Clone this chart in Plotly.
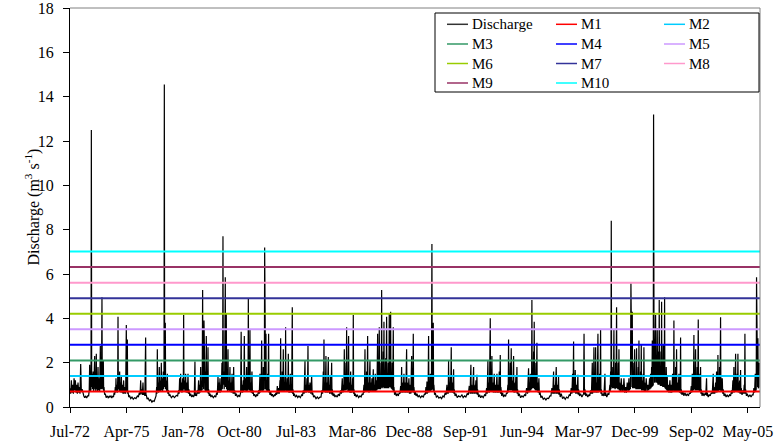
import pandas as pd
import plotly.graph_objects as go

# ---------------------------------------------------------------- data
start_date = pd.Timestamp("1972-07-22")
end_date = pd.Timestamp("2005-12-31")

# daily discharge record: (days since start_date, discharge in m3/s)
discharge_obs = [
    (0, 0.85), (12, 0.6), (24, 1.2), (35, 0.65), (47, 1.0), (60, 0.6), (72, 1.3), (83, 0.75), (95, 1.2),
    (106, 0.65), (118, 1.0), (130, 0.6), (142, 1.1), (155, 0.65), (165, 0.9), (177, 0.6), (189, 1.94),
    (201, 0.7), (215, 0.8), (230, 0.6), (245, 0.5), (260, 0.42), (278, 0.5), (295, 0.4), (312, 0.5),
    (330, 0.5), (340, 0.75), (348, 1.9), (360, 0.7), (366, 1.3), (372, 0.8), (378, 12.5), (384, 0.9),
    (392, 1.5), (401, 0.8), (410, 1.6), (419, 0.7), (428, 1.3), (437, 2.3), (443, 0.8), (448, 1.2),
    (457, 0.7), (466, 2.4), (472, 0.8), (478, 1.4), (487, 0.7), (496, 1.8), (505, 0.75), (513, 1.3),
    (525, 0.7), (537, 2.75), (543, 0.8), (549, 1.5), (557, 0.8), (566, 4.95), (572, 0.9), (578, 1.4),
    (584, 0.8), (590, 2.1), (596, 0.7), (602, 0.9), (613, 0.55), (625, 0.6), (640, 0.42), (661, 0.5),
    (680, 0.4), (695, 0.5), (708, 0.45), (725, 0.5), (740, 0.4), (755, 0.5), (770, 0.45), (781, 0.65),
    (791, 0.55), (802, 0.9), (808, 0.65), (814, 1.3), (820, 0.7), (826, 1.0), (838, 0.65), (844, 1.2),
    (850, 4.07), (856, 0.8), (861, 1.3), (870, 0.7), (879, 1.6), (885, 0.7), (891, 1.1), (900, 0.65),
    (909, 1.4), (917, 0.65), (926, 1.0), (938, 0.6), (950, 1.2), (959, 0.6), (968, 0.9), (985, 0.6),
    (997, 3.7), (1003, 0.7), (1009, 1.0), (1015, 3.05), (1021, 0.6), (1027, 0.7), (1040, 0.45),
    (1056, 0.5), (1075, 0.38), (1097, 0.45), (1120, 0.35), (1145, 0.42), (1168, 0.38), (1192, 0.5),
    (1210, 0.45), (1227, 0.65), (1240, 0.55), (1251, 1.2), (1260, 0.6), (1268, 0.8), (1280, 0.55),
    (1292, 1.1), (1301, 0.55), (1310, 0.7), (1325, 0.5), (1339, 3.14), (1345, 0.5), (1351, 0.55),
    (1365, 0.35), (1381, 0.42), (1405, 0.28), (1428, 0.33), (1450, 0.22), (1469, 0.28), (1490, 0.25),
    (1511, 0.38), (1523, 0.5), (1534, 0.9), (1540, 0.6), (1546, 2.6), (1552, 0.7), (1558, 1.1),
    (1570, 0.65), (1581, 1.8), (1587, 0.7), (1593, 1.2), (1605, 0.7), (1617, 2.0), (1623, 0.75),
    (1628, 1.3), (1640, 0.7), (1652, 1.6), (1658, 0.8), (1664, 1.1), (1670, 14.55), (1676, 0.9),
    (1681, 1.5), (1687, 3.8), (1693, 0.8), (1699, 1.2), (1711, 0.7), (1723, 1.5), (1732, 0.6),
    (1741, 0.75), (1755, 0.5), (1770, 0.55), (1795, 0.42), (1823, 0.5), (1850, 0.42), (1882, 0.52),
    (1905, 0.5), (1923, 0.75), (1932, 0.6), (1941, 1.3), (1950, 0.7), (1959, 1.5), (1965, 0.7),
    (1971, 1.1), (1983, 0.65), (1994, 1.3), (2000, 0.7), (2006, 1.0), (2012, 4.15), (2018, 0.8),
    (2024, 1.2), (2035, 0.7), (2047, 1.5), (2056, 0.65), (2065, 1.1), (2077, 0.65), (2089, 1.5),
    (2097, 0.6), (2106, 0.8), (2120, 0.5), (2136, 0.6), (2155, 0.45), (2171, 0.52), (2188, 0.45),
    (2201, 0.58), (2212, 2.05), (2218, 0.5), (2224, 0.6), (2240, 0.5), (2254, 0.75), (2265, 0.6),
    (2277, 1.2), (2286, 0.6), (2295, 1.0), (2304, 0.65), (2313, 1.8), (2322, 0.7), (2330, 1.2),
    (2340, 0.75), (2348, 5.28), (2354, 0.9), (2360, 1.4), (2366, 0.8), (2372, 3.9), (2378, 0.8),
    (2384, 1.3), (2390, 0.75), (2396, 1.6), (2402, 0.7), (2407, 1.1), (2413, 3.2), (2419, 0.7),
    (2425, 1.1), (2434, 0.65), (2443, 2.7), (2449, 0.6), (2455, 0.8), (2466, 0.5), (2478, 0.6),
    (2495, 0.45), (2513, 0.52), (2537, 0.42), (2561, 0.5), (2580, 0.45), (2596, 0.65), (2608, 0.55),
    (2620, 1.4), (2628, 0.65), (2637, 1.1), (2646, 0.65), (2655, 1.3), (2661, 0.65), (2667, 1.0),
    (2678, 0.7), (2690, 2.0), (2696, 0.8), (2702, 1.3), (2708, 7.7), (2714, 1.0), (2720, 1.6),
    (2729, 0.8), (2738, 1.3), (2749, 5.85), (2755, 0.9), (2761, 1.4), (2767, 4.2), (2773, 0.8),
    (2779, 1.3), (2788, 0.7), (2797, 2.6), (2803, 0.75), (2809, 1.2), (2820, 0.7), (2832, 1.8),
    (2838, 0.7), (2844, 1.1), (2856, 0.65), (2868, 1.5), (2874, 0.65), (2879, 1.0), (2888, 0.6),
    (2897, 1.8), (2906, 0.6), (2915, 0.75), (2930, 0.5), (2944, 0.6), (2965, 0.45), (2986, 0.52),
    (3005, 0.48), (3021, 0.65), (3030, 3.4), (3037, 0.65), (3044, 1.0), (3056, 0.65), (3068, 1.2),
    (3077, 0.7), (3086, 3.2), (3094, 0.75), (3103, 1.3), (3115, 0.7), (3127, 1.8), (3136, 0.7),
    (3145, 1.2), (3151, 0.75), (3157, 4.9), (3163, 0.8), (3168, 1.4), (3177, 0.75), (3186, 3.47),
    (3192, 0.7), (3198, 1.1), (3210, 0.65), (3221, 1.6), (3230, 0.6), (3239, 0.75), (3254, 0.5),
    (3269, 0.58), (3287, 0.45), (3304, 0.55), (3320, 0.5), (3339, 0.75), (3351, 0.6), (3363, 1.5),
    (3369, 0.65), (3375, 1.0), (3384, 0.7), (3393, 3.0), (3399, 0.75), (3404, 1.2), (3413, 0.7),
    (3422, 1.8), (3428, 0.75), (3434, 1.2), (3440, 0.8), (3446, 7.2), (3452, 0.9), (3457, 1.4),
    (3463, 0.8), (3469, 3.3), (3475, 0.75), (3481, 1.2), (3490, 0.7), (3499, 1.5), (3507, 0.7),
    (3516, 3.3), (3522, 0.65), (3528, 0.8), (3540, 0.55), (3552, 0.7), (3566, 0.5), (3581, 0.58),
    (3600, 0.45), (3617, 0.55), (3632, 0.5), (3646, 0.65), (3658, 0.55), (3670, 0.95), (3682, 0.6),
    (3693, 0.85), (3705, 0.6), (3717, 1.2), (3723, 0.7), (3729, 3.1), (3735, 0.7), (3741, 1.1),
    (3750, 0.7), (3758, 1.6), (3767, 0.7), (3776, 2.6), (3782, 0.7), (3788, 1.1), (3797, 0.7),
    (3806, 1.4), (3812, 0.75), (3817, 3.6), (3823, 0.7), (3829, 1.1), (3838, 0.7), (3847, 1.3),
    (3856, 0.7), (3865, 2.4), (3871, 0.65), (3876, 1.0), (3888, 0.65), (3900, 1.5), (3906, 0.65),
    (3912, 1.0), (3924, 0.65), (3935, 4.5), (3941, 0.6), (3947, 0.8), (3959, 0.5), (3971, 0.6),
    (3990, 0.45), (4012, 0.52), (4032, 0.42), (4053, 0.5), (4077, 0.42), (4101, 0.55), (4115, 0.5),
    (4130, 0.75), (4145, 0.6), (4160, 2.1), (4166, 0.65), (4171, 1.0), (4183, 0.65), (4195, 1.3),
    (4204, 0.7), (4213, 2.75), (4219, 0.65), (4224, 1.0), (4236, 0.65), (4248, 1.1), (4263, 0.6),
    (4278, 1.4), (4287, 0.55), (4295, 0.65), (4313, 0.45), (4331, 0.5), (4355, 0.38), (4378, 0.45),
    (4400, 0.38), (4425, 0.45), (4443, 0.45), (4460, 0.75), (4472, 0.6), (4484, 1.6), (4490, 0.7),
    (4496, 3.05), (4502, 0.7), (4508, 1.1), (4520, 0.65), (4531, 2.3), (4537, 0.65), (4543, 1.1),
    (4558, 0.65), (4573, 2.25), (4579, 0.65), (4584, 1.0), (4596, 0.6), (4608, 1.4), (4620, 0.6),
    (4632, 2.0), (4638, 0.55), (4643, 0.8), (4658, 0.5), (4673, 0.6), (4690, 0.45), (4708, 0.52),
    (4730, 0.45), (4750, 0.58), (4770, 0.5), (4791, 0.75), (4805, 0.6), (4820, 1.3), (4829, 0.65),
    (4838, 1.0), (4847, 0.7), (4856, 2.6), (4862, 0.75), (4868, 1.2), (4876, 0.75), (4885, 2.0),
    (4891, 0.75), (4897, 3.6), (4903, 0.8), (4909, 1.3), (4920, 0.7), (4932, 3.2), (4938, 0.7),
    (4944, 1.1), (4956, 0.65), (4968, 1.6), (4977, 0.65), (4986, 1.0), (4995, 0.65), (5003, 1.3),
    (5009, 0.7), (5015, 4.15), (5021, 0.6), (5027, 0.8), (5038, 0.5), (5050, 0.6), (5068, 0.45),
    (5086, 0.55), (5110, 0.42), (5133, 0.5), (5153, 0.45), (5174, 0.6), (5189, 0.55), (5204, 1.0),
    (5213, 0.65), (5222, 2.6), (5228, 0.7), (5233, 1.1), (5242, 0.7), (5251, 1.6), (5260, 0.7),
    (5269, 3.2), (5275, 0.7), (5281, 1.1), (5295, 0.65), (5310, 2.1), (5316, 0.7), (5322, 1.1),
    (5333, 0.7), (5345, 1.3), (5357, 0.7), (5369, 1.7), (5375, 0.7), (5381, 1.0), (5392, 0.7),
    (5404, 1.5), (5413, 0.7), (5422, 1.2), (5434, 0.75), (5446, 3.3), (5452, 0.8), (5458, 1.4),
    (5466, 0.8), (5475, 3.6), (5481, 0.8), (5487, 1.4), (5496, 0.8), (5505, 2.0), (5511, 0.85),
    (5517, 5.28), (5523, 0.9), (5528, 1.5), (5537, 0.85), (5546, 2.5), (5552, 0.9), (5558, 3.85),
    (5564, 0.85), (5570, 1.4), (5579, 0.85), (5587, 2.2), (5596, 0.85), (5605, 4.07), (5611, 0.85),
    (5617, 1.5), (5626, 0.85), (5635, 2.0), (5644, 0.85), (5652, 4.2), (5658, 0.9), (5664, 1.6),
    (5670, 0.9), (5676, 4.3), (5682, 0.85), (5688, 1.4), (5697, 0.8), (5705, 2.0), (5714, 0.75),
    (5723, 3.6), (5729, 0.7), (5735, 0.9), (5746, 0.55), (5758, 0.7), (5776, 0.5), (5794, 0.6),
    (5812, 0.5), (5829, 0.65), (5841, 0.6), (5853, 0.95), (5862, 0.65), (5871, 1.8), (5877, 0.65),
    (5882, 1.1), (5897, 0.65), (5912, 1.5), (5921, 0.65), (5930, 1.1), (5945, 0.65), (5959, 2.6),
    (5965, 0.65), (5971, 1.1), (5986, 0.65), (6000, 1.3), (6009, 0.6), (6018, 1.0), (6033, 0.6),
    (6048, 2.3), (6054, 0.65), (6059, 1.1), (6068, 0.7), (6077, 3.3), (6083, 0.65), (6089, 0.9),
    (6100, 0.55), (6112, 0.7), (6127, 0.5), (6142, 0.6), (6162, 0.45), (6183, 0.52), (6206, 0.42),
    (6230, 0.5), (6254, 0.45), (6277, 0.6), (6289, 0.55), (6301, 0.9), (6310, 0.6), (6319, 1.15),
    (6325, 0.6), (6330, 1.0), (6339, 0.65), (6348, 3.2), (6354, 0.65), (6360, 1.1), (6369, 0.7),
    (6378, 1.5), (6384, 0.7), (6389, 1.2), (6398, 0.75), (6407, 7.35), (6413, 0.8), (6419, 1.4),
    (6425, 0.75), (6431, 3.8), (6437, 0.7), (6442, 1.0), (6454, 0.55), (6466, 0.65), (6486, 0.45),
    (6507, 0.5), (6530, 0.4), (6555, 0.45), (6578, 0.38), (6602, 0.5), (6622, 0.45), (6643, 0.65),
    (6658, 0.55), (6673, 1.0), (6682, 0.6), (6690, 0.9), (6696, 0.6), (6702, 2.1), (6708, 0.65),
    (6714, 1.1), (6723, 0.65), (6732, 1.4), (6740, 0.65), (6749, 2.7), (6755, 0.65), (6761, 1.1),
    (6776, 0.65), (6791, 1.7), (6797, 0.6), (6802, 0.8), (6817, 0.5), (6832, 0.6), (6855, 0.42),
    (6879, 0.5), (6908, 0.45), (6938, 0.55), (6960, 0.42), (6985, 0.5), (7008, 0.45), (7032, 0.6),
    (7050, 0.55), (7068, 0.95), (7082, 0.6), (7097, 1.9), (7103, 0.6), (7109, 1.0), (7127, 0.6),
    (7145, 1.8), (7151, 0.6), (7156, 1.0), (7171, 0.6), (7186, 1.2), (7195, 0.6), (7204, 1.45),
    (7210, 0.55), (7215, 0.8), (7233, 0.45), (7251, 0.55), (7270, 0.42), (7292, 0.5), (7315, 0.42),
    (7339, 0.55), (7357, 0.5), (7375, 0.85), (7386, 0.6), (7398, 2.1), (7404, 0.65), (7410, 1.1),
    (7425, 0.65), (7440, 4.0), (7446, 0.7), (7451, 1.3), (7460, 0.7), (7469, 2.3), (7475, 0.7),
    (7481, 1.1), (7495, 0.65), (7510, 1.5), (7519, 0.65), (7528, 1.0), (7543, 0.65), (7558, 1.5),
    (7566, 0.65), (7575, 1.0), (7587, 0.65), (7599, 1.6), (7608, 0.65), (7617, 2.35), (7622, 0.6),
    (7628, 0.9), (7643, 0.5), (7658, 0.65), (7675, 0.45), (7693, 0.55), (7711, 0.48), (7729, 0.65),
    (7740, 0.6), (7752, 1.0), (7758, 0.65), (7764, 3.05), (7770, 0.75), (7776, 1.3), (7785, 0.75),
    (7794, 2.0), (7802, 0.75), (7811, 2.65), (7817, 0.75), (7823, 1.2), (7838, 0.7), (7853, 2.3),
    (7858, 0.65), (7864, 1.1), (7879, 0.65), (7894, 1.4), (7903, 0.65), (7912, 1.8), (7917, 0.6),
    (7923, 0.8), (7938, 0.5), (7953, 0.6), (7977, 0.42), (8000, 0.5), (8023, 0.45), (8047, 0.55),
    (8065, 0.5), (8083, 0.85), (8100, 0.6), (8118, 1.75), (8124, 0.65), (8130, 1.1), (8139, 0.7),
    (8148, 1.5), (8156, 0.75), (8165, 1.2), (8171, 0.8), (8177, 4.83), (8183, 0.85), (8189, 1.6),
    (8198, 0.85), (8207, 2.5), (8212, 0.85), (8218, 3.85), (8224, 0.8), (8230, 1.4), (8239, 0.75),
    (8248, 2.0), (8257, 0.75), (8266, 2.9), (8271, 0.7), (8277, 1.1), (8289, 0.65), (8301, 1.3),
    (8310, 0.55), (8319, 0.7), (8336, 0.42), (8354, 0.5), (8378, 0.35), (8401, 0.4), (8425, 0.32),
    (8448, 0.4), (8472, 0.38), (8496, 0.5), (8514, 0.5), (8531, 0.85), (8546, 0.6), (8561, 1.6),
    (8567, 0.6), (8572, 1.0), (8590, 0.6), (8608, 1.8), (8614, 0.6), (8620, 1.0), (8635, 0.6),
    (8649, 1.37), (8655, 0.55), (8661, 0.8), (8678, 0.45), (8696, 0.6), (8720, 0.38), (8743, 0.45),
    (8767, 0.35), (8791, 0.45), (8815, 0.4), (8838, 0.55), (8856, 0.5), (8873, 0.85), (8885, 0.6),
    (8897, 1.5), (8906, 0.65), (8915, 2.95), (8920, 0.65), (8926, 1.1), (8935, 0.65), (8944, 1.67),
    (8953, 0.6), (8962, 1.0), (8977, 0.6), (8991, 1.45), (8997, 0.55), (9003, 0.8), (9020, 0.5),
    (9038, 0.6), (9062, 0.45), (9086, 0.55), (9092, 0.6), (9100, 3.3), (9108, 0.55), (9116, 0.8),
    (9130, 0.5), (9145, 0.6), (9166, 0.45), (9187, 0.55), (9201, 0.5), (9216, 0.75), (9231, 0.6),
    (9246, 2.0), (9251, 0.6), (9257, 1.1), (9266, 0.65), (9275, 2.7), (9281, 0.65), (9287, 1.1),
    (9296, 0.65), (9305, 2.7), (9311, 0.65), (9316, 1.1), (9331, 0.65), (9346, 3.3), (9352, 0.65),
    (9358, 1.1), (9366, 0.7), (9375, 1.5), (9384, 0.7), (9393, 3.47), (9399, 0.6), (9405, 0.8),
    (9420, 0.5), (9434, 0.6), (9452, 0.5), (9470, 1.5), (9476, 0.5), (9482, 0.65), (9502, 0.45),
    (9523, 0.6), (9540, 0.55), (9558, 1.0), (9564, 0.7), (9570, 1.6), (9576, 0.8), (9582, 8.4),
    (9588, 0.9), (9594, 1.4), (9602, 0.85), (9611, 1.8), (9620, 0.85), (9629, 3.47), (9635, 0.85),
    (9641, 1.4), (9650, 0.8), (9659, 2.0), (9667, 0.85), (9676, 4.5), (9682, 0.85), (9688, 1.5),
    (9697, 0.8), (9706, 2.0), (9712, 0.8), (9718, 2.6), (9723, 0.75), (9729, 1.1), (9744, 0.7),
    (9759, 1.3), (9770, 0.7), (9782, 1.0), (9794, 0.7), (9806, 1.3), (9821, 0.65), (9836, 0.9),
    (9850, 0.65), (9865, 1.1), (9880, 0.7), (9895, 1.3), (9903, 0.75), (9912, 1.1), (9921, 0.8),
    (9930, 5.58), (9936, 0.9), (9942, 1.6), (9948, 0.9), (9954, 4.3), (9960, 0.85), (9965, 1.5),
    (9974, 0.85), (9983, 2.0), (9989, 0.85), (9995, 2.6), (10001, 0.85), (10007, 1.4), (10018, 0.8),
    (10030, 2.65), (10036, 0.8), (10042, 1.4), (10051, 0.8), (10060, 1.8), (10066, 0.8), (10072, 3.0),
    (10077, 0.8), (10083, 1.4), (10092, 0.8), (10101, 1.6), (10107, 0.8), (10113, 2.8), (10119, 0.75),
    (10125, 1.2), (10137, 0.75), (10148, 1.5), (10154, 0.75), (10160, 2.7), (10166, 0.7), (10172, 1.1),
    (10187, 0.7), (10201, 1.3), (10216, 0.7), (10231, 1.0), (10245, 0.75), (10260, 1.3), (10269, 0.8),
    (10278, 1.5), (10287, 0.85), (10296, 1.8), (10302, 0.9), (10308, 3.0), (10313, 0.95), (10319, 1.6),
    (10325, 1.0), (10331, 13.2), (10334, 1.5), (10337, 9.07), (10340, 1.4), (10345, 2.0), (10349, 1.1),
    (10355, 2.5), (10361, 1.1), (10367, 4.15), (10372, 1.1), (10378, 2.0), (10387, 1.1), (10396, 3.55),
    (10402, 1.1), (10408, 1.8), (10414, 1.0), (10420, 2.5), (10425, 1.0), (10431, 4.83), (10437, 1.0),
    (10443, 1.6), (10452, 0.95), (10461, 2.5), (10467, 0.95), (10473, 4.75), (10479, 0.95), (10485, 1.6),
    (10494, 0.9), (10502, 2.8), (10508, 0.9), (10514, 1.5), (10520, 0.9), (10526, 4.95), (10532, 0.85),
    (10538, 1.3), (10547, 0.8), (10555, 1.8), (10564, 0.75), (10573, 1.37), (10582, 0.7), (10591, 1.0),
    (10605, 0.65), (10620, 1.2), (10632, 0.65), (10644, 1.0), (10655, 0.65), (10667, 1.5), (10673, 0.7),
    (10679, 1.1), (10685, 0.75), (10691, 3.9), (10697, 0.7), (10703, 1.1), (10712, 0.7), (10721, 1.8),
    (10730, 0.7), (10738, 2.6), (10744, 0.7), (10750, 1.1), (10765, 0.7), (10780, 1.5), (10788, 0.65),
    (10797, 1.0), (10803, 0.65), (10809, 3.14), (10815, 0.6), (10821, 0.8), (10835, 0.55), (10850, 0.7),
    (10868, 0.5), (10886, 0.65), (10906, 0.5), (10927, 0.6), (10948, 0.5), (10968, 0.65), (10983, 0.6),
    (10998, 0.95), (11007, 0.65), (11016, 1.5), (11022, 0.7), (11027, 1.1), (11036, 0.75), (11045, 3.25),
    (11051, 0.8), (11057, 1.4), (11066, 0.75), (11075, 2.6), (11081, 0.75), (11086, 1.3), (11095, 0.75),
    (11104, 1.8), (11113, 0.75), (11122, 3.95), (11128, 0.75), (11134, 1.3), (11142, 0.7), (11151, 1.5),
    (11157, 0.7), (11163, 1.8), (11169, 0.6), (11175, 0.8), (11190, 0.5), (11204, 0.65), (11222, 0.5),
    (11240, 0.6), (11255, 0.55), (11269, 1.3), (11275, 0.5), (11281, 0.65), (11298, 0.45), (11316, 0.55),
    (11334, 0.5), (11352, 0.65), (11370, 0.6), (11387, 1.5), (11393, 0.6), (11399, 0.9), (11414, 0.6),
    (11429, 1.1), (11437, 0.65), (11446, 1.6), (11452, 0.65), (11458, 1.1), (11464, 0.7), (11470, 2.35),
    (11476, 0.7), (11482, 1.3), (11490, 0.75), (11499, 1.8), (11508, 0.75), (11517, 4.05), (11523, 0.7),
    (11529, 1.3), (11538, 0.7), (11547, 1.3), (11555, 0.6), (11564, 0.8), (11579, 0.5), (11594, 0.6),
    (11615, 0.45), (11635, 0.55), (11655, 0.45), (11676, 0.55), (11694, 0.5), (11712, 0.75), (11723, 0.6),
    (11735, 1.2), (11744, 0.65), (11753, 1.8), (11759, 0.65), (11765, 1.1), (11774, 0.7), (11783, 2.4),
    (11789, 0.7), (11794, 1.2), (11803, 0.7), (11812, 1.5), (11818, 0.7), (11824, 2.4), (11830, 0.65),
    (11836, 1.1), (11845, 0.65), (11853, 1.2), (11862, 0.6), (11871, 1.67), (11877, 0.6), (11883, 0.85),
    (11897, 0.55), (11912, 0.75), (11924, 0.6), (11936, 1.0), (11942, 0.6), (11948, 3.3), (11954, 0.6),
    (11960, 0.8), (11975, 0.5), (11989, 0.6), (12012, 0.45), (12036, 0.55), (12057, 0.45), (12078, 0.55),
    (12093, 0.55), (12107, 0.85), (12119, 0.65), (12131, 1.5), (12137, 0.7), (12142, 1.1), (12148, 0.8),
    (12154, 5.85), (12160, 0.9), (12166, 1.5), (12172, 0.9), (12178, 3.1), (12184, 0.85), (12190, 1.6),
    (12196, 0.9), (12201, 2.0),
]

# flow thresholds (multiples of the mean flow)
threshold_names = ["M1", "M2", "M3", "M4", "M5", "M6", "M7", "M8", "M9", "M10"]
threshold_values = [0.70, 1.40, 2.10, 2.81, 3.51, 4.21, 4.91, 5.61, 6.32, 7.02]
threshold_colors = ["#FF0000", "#00CCFF", "#339966", "#0000FF", "#CC99FF",
                    "#99CC00", "#333399", "#FF99CC", "#993366", "#00FFFF"]

# date axis: one labelled tick every 1000 days from the first record
tick_step_days = 1000
tick_labels = ["Jul-72", "Apr-75", "Jan-78", "Oct-80", "Jul-83", "Mar-86", "Dec-88",
               "Sep-91", "Jun-94", "Mar-97", "Dec-99", "Sep-02", "May-05"]
y_ticks = [0, 2, 4, 6, 8, 10, 12, 14, 16, 18]

# ---------------------------------------------------------------- figure
W, H = 774, 443
ML, MR, MT, MB = 70, 14, 8, 36
PW, PH = W - ML - MR, H - MT - MB
FONT = "Liberation Serif"


def px(x):
    return (x - ML) / PW


def py(y):
    return (H - MB - y) / PH


days = [d for d, _ in discharge_obs]
flows = [q for _, q in discharge_obs]
dates = start_date + pd.to_timedelta(days, unit="D")
tick_dates = [start_date + pd.Timedelta(days=i * tick_step_days) for i in range(len(tick_labels))]

fig = go.Figure()
fig.add_trace(go.Scatter(x=dates, y=flows, mode="lines", name="Discharge",
                         line=dict(color="#000000", width=1.2), showlegend=False))
for name, val, col in zip(threshold_names, threshold_values, threshold_colors):
    fig.add_trace(go.Scatter(x=[start_date, end_date], y=[val, val], mode="lines", name=name,
                             line=dict(color=col, width=2), showlegend=False))

fig.update_layout(
    width=W, height=H,
    margin=dict(l=ML, r=MR, t=MT, b=MB),
    paper_bgcolor="white", plot_bgcolor="white",
    font=dict(family=FONT, size=16, color="black"),
    showlegend=False,
)
fig.update_xaxes(
    type="date", range=[start_date, end_date], automargin=False,
    tickmode="array", tickvals=tick_dates, ticktext=tick_labels,
    ticks="outside", ticklen=5, tickcolor="black", tickwidth=1,
    showline=True, linecolor="black", linewidth=1,
    showgrid=False, zeroline=False,
    tickfont=dict(family=FONT, size=16, color="black"),
    ticklabelstandoff=5, ticklabeloverflow="allow",
)
fig.update_yaxes(
    range=[0, 18], tickmode="array", tickvals=y_ticks, automargin=False,
    ticks="outside", ticklen=6, tickcolor="black", tickwidth=1,
    showline=True, linecolor="black", linewidth=1,
    showgrid=False, zeroline=False,
    tickfont=dict(family=FONT, size=16, color="black"),
    ticklabelstandoff=6, ticklabeloverflow="allow",
)

# plot-area frame on top and right
fig.add_shape(type="line", xref="paper", yref="paper", x0=0, x1=1, y0=1, y1=1,
              line=dict(color="#808080", width=1))
fig.add_shape(type="line", xref="paper", yref="paper", x0=1, x1=1, y0=0, y1=1,
              line=dict(color="#808080", width=1))

# y-axis title
fig.add_annotation(text="Discharge (m<sup>3</sup> s<sup>-1</sup>)", xref="paper", yref="paper",
                   x=px(33), y=0.5, textangle=-90, showarrow=False,
                   xanchor="center", yanchor="middle",
                   font=dict(family=FONT, size=16, color="black"))

# legend: three columns inside a framed box
fig.add_shape(type="rect", xref="paper", yref="paper",
              x0=px(435), x1=px(759), y0=py(92), y1=py(13),
              line=dict(color="black", width=1), fillcolor="white", layer="above")
legend_names = ["Discharge"] + threshold_names
legend_colors = ["#333333"] + threshold_colors
col_x = [447, 556, 664]
row_y = [24.3, 44, 63.5, 83]
for i, (name, col) in enumerate(zip(legend_names, legend_colors)):
    r, c = divmod(i, 3)
    x0 = col_x[c]
    y = row_y[r]
    fig.add_shape(type="line", xref="paper", yref="paper",
                  x0=px(x0), x1=px(x0 + 21), y0=py(y), y1=py(y),
                  line=dict(color=col, width=1.5), layer="above")
    fig.add_annotation(text=name, xref="paper", yref="paper", x=px(x0 + 23), y=py(y),
                       xanchor="left", yanchor="middle", showarrow=False,
                       font=dict(family=FONT, size=15, color="black"))

fig.write_html("out.html")
